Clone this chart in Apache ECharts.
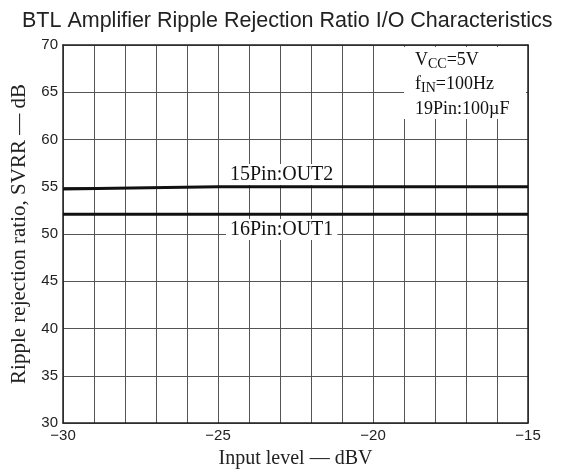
<!DOCTYPE html>
<html><head><meta charset="utf-8">
<script src="https://cdn.jsdelivr.net/npm/echarts@6/dist/echarts.min.js"></script>
<style>html,body{margin:0;padding:0;background:#fff}#c{width:564px;height:470px}</style>
</head><body><div id="c"></div>
<script>
const xTickValues = [-30, -25, -20, -15];
const xTickLabels = ['\u221230', '\u221225', '\u221220', '\u221215'];
const yTickLabels = ['30','35','40','45','50','55','60','65','70'];
const out2X = [-30, -25, -15];
const out2Y = [54.75, 55.0, 55.0];
const out1X = [-30, -15];
const out1Y = [52.1, 52.1];
const seriesNames = ['15Pin:OUT2', '16Pin:OUT1'];

const chart = echarts.init(document.getElementById('c'), null, {renderer: 'canvas'});
const serif = '"Liberation Serif", "DejaVu Serif", serif';
const sans = '"Liberation Sans", Arial, sans-serif';
const gridCol = '#555';
function pairs(xs, ys){ return xs.map((x,i)=>[x, ys[i]]); }
chart.setOption({
  animation: false,
  title: {text: 'BTL Amplifier Ripple Rejection Ratio I/O Characteristics', left: 17, top: 5,
    textStyle: {fontFamily: sans, fontSize: 21.5, fontWeight: 'normal', color: '#222'}},
  grid: {left: 63, right: 36, top: 45, bottom: 47, containLabel: false, outerBoundsMode: 'none'},
  xAxis: [{
    type: 'value', min: -30, max: -15, interval: 1,
    axisLine: {show: true, onZero: false, lineStyle: {color: '#222', width: 1.5}},
    axisTick: {show: false},
    splitLine: {show: true, lineStyle: {color: gridCol, width: 1}},
    axisLabel: {fontFamily: sans, fontSize: 15, color: '#222', margin: 5,
      formatter: v => { const i = xTickValues.indexOf(v); return i >= 0 ? xTickLabels[i] : ''; }},
    name: 'Input level \u2014 dBV', nameLocation: 'middle', nameGap: 26,
    nameTextStyle: {fontFamily: serif, fontSize: 20, color: '#222'}
  }, {
    type: 'value', position: 'top', min: -30, max: -15, interval: 1,
    axisLine: {show: true, onZero: false, lineStyle: {color: '#222', width: 1.5}},
    axisTick: {show: false}, axisLabel: {show: false}, splitLine: {show: false}
  }],
  yAxis: [{
    type: 'value', min: 30, max: 70, interval: 5,
    axisLine: {show: true, onZero: false, lineStyle: {color: '#222', width: 1.5}},
    axisTick: {show: false},
    splitLine: {show: true, lineStyle: {color: gridCol, width: 1}},
    axisLabel: {fontFamily: sans, fontSize: 15, color: '#222', margin: 5,
      formatter: v => yTickLabels[Math.round((v - 30) / 5)]},
    name: 'Ripple rejection ratio, SVRR \u2014 dB', nameLocation: 'middle', nameGap: 29,
    nameTextStyle: {fontFamily: serif, fontSize: 21, color: '#222'}
  }, {
    type: 'value', position: 'right', min: 30, max: 70, interval: 5,
    axisLine: {show: true, onZero: false, lineStyle: {color: '#222', width: 1.5}},
    axisTick: {show: false}, axisLabel: {show: false}, splitLine: {show: false}
  }],
  series: [{
    name: seriesNames[0], type: 'line', data: pairs(out2X, out2Y), symbol: 'none',
    lineStyle: {color: '#111', width: 3}
  }, {
    name: seriesNames[1], type: 'line', data: pairs(out1X, out1Y), symbol: 'none',
    lineStyle: {color: '#111', width: 3}
  }],
  graphic: [
    {type: 'rect', z: 10, shape: {x: 404, y: 47, width: 122, height: 72}, style: {fill: '#fff'}},
    {type: 'text', z: 11, left: 415, top: 51, style: {
      rich: {n: {fontFamily: serif, fontSize: 18, fill: '#111'}, s: {fontFamily: serif, fontSize: 14, fill: '#111', padding: [9,0,0,0]}},
      text: '{n|V}{s|CC}{n|=5V}'}},
    {type: 'text', z: 11, left: 415, top: 75, style: {
      rich: {n: {fontFamily: serif, fontSize: 18, fill: '#111'}, s: {fontFamily: serif, fontSize: 14, fill: '#111', padding: [9,0,0,0]}},
      text: '{n|f}{s|IN}{n|=100Hz}'}},
    {type: 'text', z: 11, left: 415, top: 100, style: {text: '19Pin:100\u00b5F', fontFamily: serif, fontSize: 18, fill: '#111'}},
    {type: 'text', z: 11, left: 226, top: 164, style: {text: seriesNames[0], fontFamily: serif, fontSize: 20, fill: '#111',
      backgroundColor: '#fff', padding: [1, 4, 0, 4]}},
    {type: 'text', z: 11, left: 226, top: 219, style: {text: seriesNames[1], fontFamily: serif, fontSize: 20, fill: '#111',
      backgroundColor: '#fff', padding: [1, 4, 0, 4]}}
  ]
});
</script></body></html>
